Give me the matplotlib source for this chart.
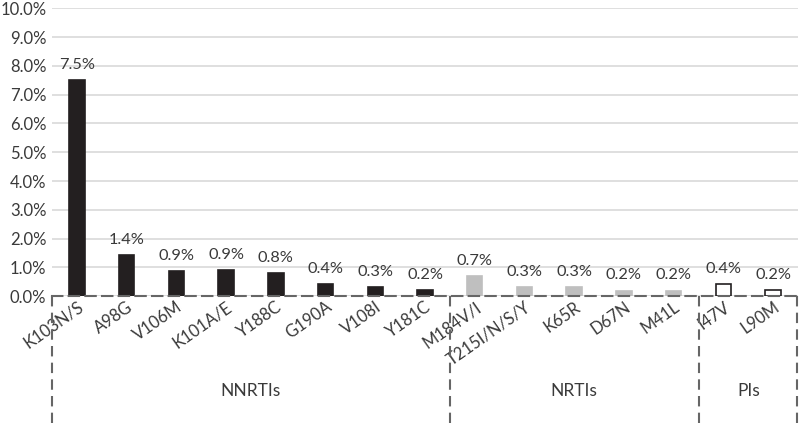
import matplotlib
matplotlib.use("Agg")
import matplotlib.pyplot as plt
import matplotlib.transforms as mtransforms
from matplotlib.ticker import FuncFormatter, MultipleLocator

# mutation names, prevalence (%) and drug class
mutations = ["K103N/S", "A98G", "V106M", "K101A/E", "Y188C", "G190A", "V108I", "Y181C",
             "M184V/I", "T215I/N/S/Y", "K65R", "D67N", "M41L",
             "I47V", "L90M"]
prevalence = [7.5, 1.42, 0.87, 0.9, 0.8, 0.42, 0.31, 0.21,
              0.7, 0.3, 0.3, 0.18, 0.18,
              0.42, 0.2]
labels = ["7.5%", "1.4%", "0.9%", "0.9%", "0.8%", "0.4%", "0.3%", "0.2%",
          "0.7%", "0.3%", "0.3%", "0.2%", "0.2%",
          "0.4%", "0.2%"]
groups = ["NNRTIs", "NRTIs", "PIs"]
group_sizes = [8, 5, 2]

face = {"NNRTIs": "#231f20", "NRTIs": "#bfbfbf", "PIs": "white"}
edge = {"NNRTIs": "#231f20", "NRTIs": "#bfbfbf", "PIs": "#231f20"}

plt.rcParams["font.family"] = ["Lato", "DejaVu Sans"]
TXT = "#3a3a3a"
DASH = "#666666"

W, H = 799, 423
fig = plt.figure(figsize=(W / 100, H / 100), dpi=100)
ax = fig.add_axes([52 / W, (H - 296) / H, (798 - 52) / W, (296 - 8.5) / H])

colors, edges = [], []
for g, n in zip(groups, group_sizes):
    colors += [face[g]] * n
    edges += [edge[g]] * n

x = list(range(len(mutations)))
ax.bar(x, prevalence, width=0.31, color=colors, edgecolor=edges, linewidth=1.2, zorder=3)
for xi, v, lab in zip(x, prevalence, labels):
    ax.annotate(lab, (xi, v), xytext=(0, 6), textcoords="offset points",
                ha="center", va="bottom", fontsize=11.8, color=TXT)

ax.set_xlim(-0.5, len(mutations) - 0.5)
ax.set_ylim(0, 10)
ax.yaxis.set_major_locator(MultipleLocator(1))
ax.yaxis.set_major_formatter(FuncFormatter(lambda v, p: f"{v:.1f}%"))
ax.grid(axis="y", color="#d9d9d9", linewidth=1.2, zorder=0)
ax.tick_params(axis="y", length=0, pad=4, labelsize=12, labelcolor=TXT)
ax.tick_params(axis="x", length=0, pad=2)
ax.set_xticks(x)
ax.set_xticklabels(mutations, rotation=35, ha="right", rotation_mode="anchor",
                   fontsize=12, color=TXT)
for s in ["left", "right", "top"]:
    ax.spines[s].set_visible(False)
ax.spines["bottom"].set_linestyle((0, (5, 3)))
ax.spines["bottom"].set_color(DASH)
ax.spines["bottom"].set_linewidth(1.5)
ax.spines["bottom"].set_zorder(4)

# group boxes below the axis
trans = mtransforms.blended_transform_factory(ax.transData, ax.transAxes)
start = -0.5
for g, n in zip(groups, group_sizes):
    end = start + n
    ax.text((start + end) / 2, -0.33, g, transform=trans, ha="center", va="center",
            fontsize=12.5, color=TXT)
    start = end
bounds = [-0.5]
for n in group_sizes:
    bounds.append(bounds[-1] + n)
for b in bounds:
    xb = b if b < bounds[-1] else b - 0.03
    ax.plot([xb, xb], [0, -0.5], transform=trans, clip_on=False, color=DASH,
            linewidth=1.5, linestyle=(0, (5, 3)), zorder=4)

fig.savefig("out.png", dpi=100)
